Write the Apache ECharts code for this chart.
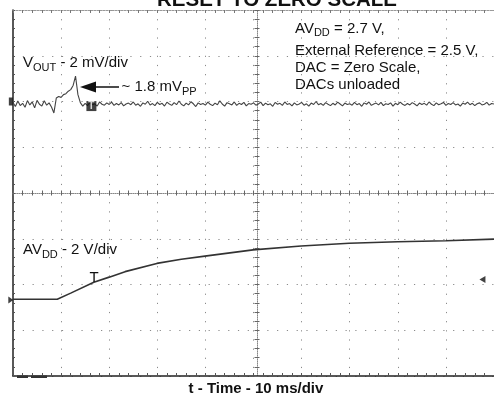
<!DOCTYPE html>
<html><head><meta charset="utf-8">
<script src="https://cdn.jsdelivr.net/npm/echarts@6/dist/echarts.min.js"></script>
<style>html,body{margin:0;padding:0;background:#fff;}#c{width:494px;height:396px;}</style>
</head><body><div id="c"></div>
<script>
// ---- data ----
const titleText = 'RESET TO ZERO SCALE';
const xAxisTitle = 't - Time - 10 ms/div';
const timeRangeMs = [0, 100];          // 10 ms/div, 10 divisions
const voutRangeMv = [-12, 4];          // 2 mV/div, 8 divisions
const avddRangeV = [-3.322, 12.678];   // 2 V/div, 8 divisions
const voutStepMs = 0.5;                // sample spacing of the VOUT trace
const voutMv = [
  -0.05,-0.22,0.02,-0.18,-0.08,-0.25,0.04,-0.15,-0.02,-0.28,0.05,-0.12,-0.20,0.03,-0.16,-0.06,-0.24,
  -0.50,0.15,0.22,0.18,0.30,0.34,0.45,0.52,0.70,1.11,0.30,-0.05,-0.20,
  -0.08,-0.18,-0.04,-0.14,-0.10,-0.20,-0.02,-0.12,-0.16,-0.06,
  -0.13,-0.03,-0.17,-0.09,-0.15,-0.05,-0.19,-0.11,-0.07,-0.14,
  -0.02,-0.16,-0.10,-0.21,-0.06,-0.12,0.01,-0.15,-0.09,-0.18,
  -0.04,-0.13,-0.08,-0.20,-0.03,-0.11,-0.17,-0.05,-0.14,0.02,
  -0.12,-0.19,-0.07,-0.15,-0.01,-0.10,-0.22,-0.06,-0.13,-0.09,
  -0.16,-0.03,-0.12,-0.18,-0.07,-0.14,0.03,-0.11,-0.20,-0.05,
  -0.10,-0.15,-0.02,-0.17,-0.08,-0.13,-0.04,-0.19,-0.09,-0.12,
  -0.06,-0.16,-0.11,-0.03,-0.18,-0.07,-0.14,-0.10,-0.21,-0.04,
  -0.12,-0.08,-0.17,-0.02,-0.13,-0.09,-0.19,-0.06,-0.15,-0.11,
  -0.04,-0.16,-0.10,-0.20,-0.07,-0.13,0.00,-0.14,-0.09,-0.17,
  -0.05,-0.12,-0.18,-0.08,-0.15,-0.03,-0.11,-0.19,-0.07,-0.13,
  -0.10,-0.16,-0.04,-0.14,-0.09,-0.21,-0.06,-0.12,-0.02,-0.17,
  -0.11,-0.07,-0.15,-0.04,-0.18,-0.10,-0.13,-0.06,-0.20,-0.08,
  -0.14,-0.03,-0.12,-0.17,-0.09,-0.15,-0.05,-0.11,-0.19,-0.07,
  -0.13,-0.08,-0.16,-0.02,-0.12,-0.18,-0.06,-0.14,-0.10,-0.04,
  -0.17,-0.09,-0.13,-0.05,-0.15,-0.11,-0.20,-0.07,-0.12,-0.03,
  -0.14,-0.08,-0.18,-0.10,-0.06,-0.15,-0.12,-0.04,-0.16,-0.09,
  -0.11
];
const avddTimeMs = [0, 9.2, 12, 16.8, 20, 23.3, 29.9, 35, 39.9, 49.9, 59.9, 69.9, 80, 90, 100];
const avddV      = [0.03, 0.03, 0.30, 0.78, 1.00, 1.24, 1.60, 1.78, 1.92, 2.19, 2.36, 2.48, 2.55, 2.59, 2.66];
const voutGroundMv = 0;
const avddGroundV = 0;
const avddTriggerV = 0.9;
const avddTriggerMs = 97.6;
const voutTriggerPoint = [16.3, -0.2];
const groundMarkerMs = -0.45;

// ---- chart ----
const FONT = '"Liberation Sans", Arial, sans-serif';
const chart = echarts.init(document.getElementById('c'), null, {renderer: 'canvas'});
const mctx = document.createElement('canvas').getContext('2d');
function measure(text, size) { mctx.font = size + 'px ' + FONT; return mctx.measureText(text).width; }
// segments: array of [text, isSub]
function label(x, baseline, segments) {
  const out = [];
  let cx = x;
  segments.forEach(function (seg) {
    const size = seg[1] ? 11 : 15;
    const bl = seg[1] ? baseline + 3 : baseline;
    out.push({type: 'text', x: cx, y: bl - 0.3465 * size, z: 50,
      style: {text: seg[0], font: size + 'px ' + FONT, fill: '#111', align: 'left', verticalAlign: 'middle'}});
    cx += measure(seg[0], size);
  });
  return out;
}
const gridLine = '#8a8a8a';
const hiddenAxis = {show: false};
chart.setOption({
  animation: false,
  backgroundColor: '#fff',
  grid: {left: 13, top: 10, width: 488.5, height: 366},
  xAxis: [
    {type: 'value', min: timeRangeMs[0], max: timeRangeMs[1], interval: 10, position: 'bottom',
     axisLine: {show: true, onZero: false, lineStyle: {color: '#222', width: 1.5}},
     axisTick: {show: true, inside: true, length: 3, lineStyle: {color: '#555'}},
     minorTick: {show: true, splitNumber: 5, length: 3, lineStyle: {color: '#555'}},
     axisLabel: {show: false},
     splitLine: {show: true, lineStyle: {color: gridLine, width: 1, type: [1.2, 7.95]}}},
    {type: 'value', min: timeRangeMs[0], max: timeRangeMs[1], interval: 10, position: 'top',
     axisLine: {show: true, onZero: false, lineStyle: {color: '#999', width: 1, type: [2, 1]}},
     axisTick: {show: true, inside: true, length: 3, lineStyle: {color: '#777'}},
     minorTick: {show: true, splitNumber: 5, length: 3, lineStyle: {color: '#777'}},
     axisLabel: {show: false}, splitLine: {show: false}},
    {type: 'value', min: timeRangeMs[0], max: timeRangeMs[1], interval: 2, position: 'bottom', offset: -183,
     axisLine: {show: true, onZero: false, lineStyle: {color: '#888', width: 1, type: [1, 1]}},
     axisTick: {show: true, inside: true, length: 2.5, lineStyle: {color: '#666'}},
     axisLabel: {show: false}, splitLine: {show: false}},
    {type: 'value', min: timeRangeMs[0], max: timeRangeMs[1], interval: 2, position: 'bottom', offset: -183,
     axisLine: {show: false, onZero: false},
     axisTick: {show: true, inside: false, length: 2.5, lineStyle: {color: '#666'}},
     axisLabel: {show: false}, splitLine: {show: false}}
  ],
  yAxis: [
    {type: 'value', min: 0, max: 8, interval: 1, position: 'left',
     axisLine: {show: true, onZero: false, lineStyle: {color: '#222', width: 1.5}},
     axisTick: {show: true, inside: true, length: 2, lineStyle: {color: '#555'}},
     minorTick: {show: true, splitNumber: 5, length: 2, lineStyle: {color: '#555'}},
     axisLabel: {show: false},
     splitLine: {show: true, lineStyle: {color: gridLine, width: 1, type: [1.2, 8.58]}}},
    {type: 'value', min: 0, max: 8, interval: 0.2, position: 'left', offset: -244,
     axisLine: {show: true, onZero: false, lineStyle: {color: '#888', width: 1, type: [1, 1]}},
     axisTick: {show: true, inside: true, length: 2.5, lineStyle: {color: '#666'}},
     axisLabel: {show: false}, splitLine: {show: false}},
    {type: 'value', min: 0, max: 8, interval: 0.2, position: 'left', offset: -244,
     axisLine: {show: false, onZero: false},
     axisTick: {show: true, inside: false, length: 2.5, lineStyle: {color: '#666'}},
     axisLabel: {show: false}, splitLine: {show: false}},
    Object.assign({type: 'value', min: voutRangeMv[0], max: voutRangeMv[1]}, hiddenAxis),
    Object.assign({type: 'value', min: avddRangeV[0], max: avddRangeV[1]}, hiddenAxis)
  ],
  series: [
    {type: 'line', name: 'VOUT', xAxisIndex: 0, yAxisIndex: 3, symbol: 'none', z: 5,
     lineStyle: {color: '#444', width: 1.1},
     data: voutMv.map((v, i) => [i * voutStepMs, v])},
    {type: 'line', name: 'AVDD', xAxisIndex: 0, yAxisIndex: 4, symbol: 'none', z: 5,
     lineStyle: {color: '#333', width: 1.6},
     data: avddTimeMs.map((t, i) => [t, avddV[i]])},
    {type: 'scatter', xAxisIndex: 0, yAxisIndex: 3, clip: false, z: 6,
     symbol: 'rect', symbolSize: [4, 8], itemStyle: {color: '#111'},
     data: [[groundMarkerMs, voutGroundMv]]},
    {type: 'scatter', xAxisIndex: 0, yAxisIndex: 3, clip: false, z: 7,
     symbol: 'rect', symbolSize: [10, 10], itemStyle: {color: '#111'},
     label: {show: true, position: 'inside', formatter: 'T', color: '#fff', fontSize: 10, fontWeight: 'bold', fontFamily: FONT},
     data: [voutTriggerPoint]},
    {type: 'scatter', xAxisIndex: 0, yAxisIndex: 4, clip: false, z: 6,
     symbol: 'triangle', symbolRotate: -90, symbolSize: [7, 5], itemStyle: {color: '#111'},
     data: [[groundMarkerMs, avddGroundV]]},
    {type: 'scatter', xAxisIndex: 0, yAxisIndex: 4, clip: false, z: 6,
     symbol: 'triangle', symbolRotate: 90, symbolSize: [7, 6], itemStyle: {color: '#111'},
     data: [[avddTriggerMs, avddTriggerV]]}
  ],
  graphic: [].concat(
    [{type: 'text', x: 277, y: 0.4, z: 50, style: {text: titleText, font: 'bold 20.5px ' + FONT, fill: '#111', align: 'center', verticalAlign: 'middle'}},
     {type: 'text', x: 256, y: 388.8, z: 50, style: {text: xAxisTitle, font: 'bold 15px ' + FONT, fill: '#111', align: 'center', verticalAlign: 'middle'}}],
    label(295, 34, [['AV', false], ['DD', true], [' = 2.7 V,', false]]),
    label(295, 56, [['External Reference = 2.5 V,', false]]),
    label(295, 73.5, [['DAC = Zero Scale,', false]]),
    label(295, 90.5, [['DACs unloaded', false]]),
    label(23, 68.5, [['V', false], ['OUT', true], [' - 2 mV/div', false]]),
    label(121.5, 92.5, [['~ 1.8 mV', false], ['PP', true]]),
    label(23, 255.5, [['AV', false], ['DD', true], [' - 2 V/div', false]]),
    [{type: 'text', x: 94, y: 283 - 5.2, z: 50, style: {text: 'T', font: '15px ' + FONT, fill: '#111', align: 'center', verticalAlign: 'middle'}},
     {type: 'polygon', z: 50, shape: {points: [[80, 87], [96, 81.5], [96, 92.5]]}, style: {fill: '#111'}},
     {type: 'line', z: 50, shape: {x1: 95, y1: 87, x2: 119, y2: 87}, style: {stroke: '#111', lineWidth: 1.5}},
     {type: 'rect', z: 50, shape: {x: 17, y: 375.5, width: 11, height: 2.5}, style: {fill: '#333'}},
     {type: 'rect', z: 50, shape: {x: 31, y: 375.5, width: 16, height: 2.5}, style: {fill: '#333'}}]
  )
});
</script></body></html>
